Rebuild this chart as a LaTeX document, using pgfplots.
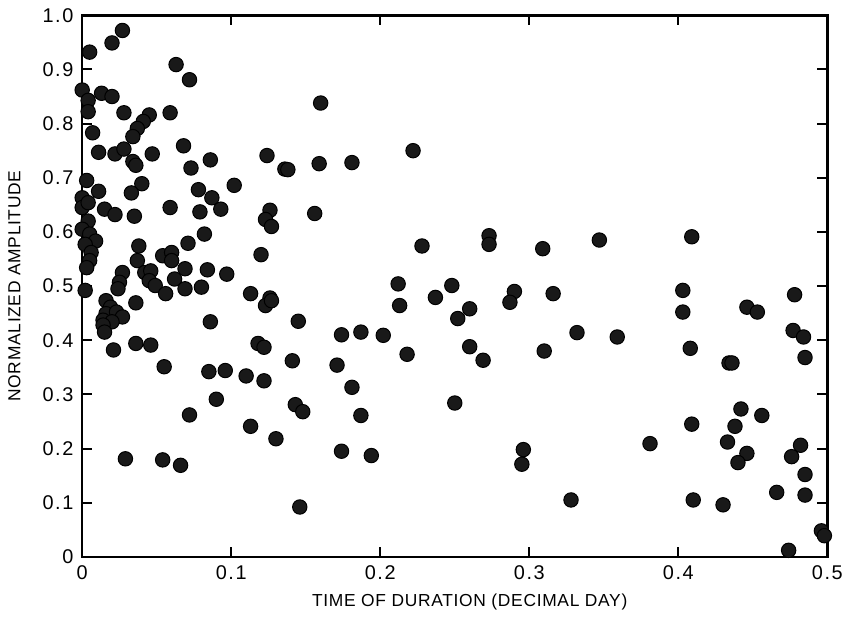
\documentclass[border=0pt]{standalone}
\usepackage{fontspec}
\setmainfont{Liberation Sans}
\usepackage{pgfplots}
\pgfplotsset{compat=1.18}

\pgfplotstableread{
x y
0.027 0.972
0.020 0.949
0.005 0.932
0.063 0.909
0.072 0.881
0.000 0.862
0.004 0.843
0.004 0.822
0.013 0.856
0.020 0.850
0.028 0.820
0.059 0.820
0.045 0.816
0.041 0.804
0.037 0.791
0.034 0.776
0.007 0.783
0.011 0.747
0.022 0.744
0.028 0.753
0.034 0.730
0.036 0.723
0.047 0.744
0.068 0.759
0.073 0.718
0.086 0.733
0.102 0.686
0.003 0.695
0.011 0.675
0.040 0.689
0.033 0.672
0.078 0.678
0.087 0.663
0.093 0.642
0.000 0.663
0.000 0.645
0.004 0.654
0.015 0.642
0.022 0.632
0.035 0.629
0.059 0.645
0.079 0.637
0.082 0.596
0.004 0.620
0.000 0.605
0.005 0.596
0.009 0.583
0.002 0.577
0.006 0.562
0.005 0.547
0.003 0.534
0.002 0.492
0.038 0.574
0.037 0.547
0.054 0.556
0.060 0.562
0.060 0.547
0.071 0.579
0.069 0.532
0.084 0.530
0.097 0.522
0.027 0.525
0.025 0.507
0.024 0.495
0.042 0.525
0.046 0.528
0.045 0.510
0.049 0.501
0.056 0.486
0.062 0.513
0.069 0.495
0.080 0.498
0.113 0.486
0.016 0.473
0.019 0.461
0.016 0.449
0.023 0.452
0.027 0.443
0.014 0.437
0.020 0.434
0.014 0.428
0.015 0.415
0.036 0.469
0.086 0.434
0.021 0.382
0.036 0.394
0.046 0.391
0.055 0.351
0.085 0.342
0.096 0.344
0.110 0.334
0.090 0.291
0.072 0.262
0.113 0.241
0.029 0.181
0.054 0.179
0.066 0.169
0.160 0.838
0.124 0.741
0.136 0.716
0.138 0.715
0.159 0.726
0.181 0.728
0.222 0.750
0.126 0.640
0.123 0.623
0.127 0.610
0.156 0.634
0.120 0.558
0.228 0.574
0.273 0.593
0.273 0.577
0.212 0.504
0.248 0.501
0.237 0.479
0.290 0.490
0.287 0.470
0.126 0.478
0.123 0.464
0.127 0.473
0.145 0.435
0.174 0.410
0.187 0.415
0.202 0.409
0.213 0.464
0.260 0.458
0.252 0.440
0.118 0.394
0.122 0.387
0.141 0.362
0.171 0.354
0.218 0.374
0.260 0.388
0.269 0.363
0.122 0.325
0.181 0.313
0.143 0.281
0.148 0.268
0.187 0.261
0.250 0.284
0.130 0.218
0.174 0.195
0.194 0.187
0.296 0.198
0.295 0.171
0.146 0.092
0.309 0.569
0.347 0.585
0.409 0.591
0.316 0.486
0.403 0.492
0.403 0.452
0.332 0.414
0.359 0.406
0.310 0.380
0.408 0.385
0.446 0.461
0.453 0.452
0.478 0.484
0.477 0.418
0.484 0.406
0.485 0.368
0.434 0.358
0.436 0.358
0.442 0.273
0.456 0.261
0.409 0.245
0.438 0.241
0.433 0.212
0.381 0.209
0.446 0.191
0.440 0.174
0.482 0.206
0.476 0.185
0.485 0.152
0.328 0.105
0.410 0.105
0.430 0.096
0.466 0.119
0.485 0.114
0.496 0.048
0.498 0.039
0.474 0.012
}\amplitude

\begin{document}
\begin{tikzpicture}[trim right={([xshift=7.5pt]current axis.east)}]
\begin{axis}[
  scale only axis,
  width=300pt, height=218pt,
  xmin=0, xmax=0.5, ymin=0, ymax=1,
  xtick={0,0.1,0.2,0.3,0.4,0.5},
  xticklabels={0,0.1,0.2,0.3,0.4,0.5},
  ytick={0,0.1,0.2,0.3,0.4,0.5,0.6,0.7,0.8,0.9,1},
  yticklabels={0,0.1,0.2,0.3,0.4,0.5,0.6,0.7,0.8,0.9,1.0},
  tick align=inside,
  major tick length=4pt,
  tick style={line width=0.8pt, black},
  axis line style={line width=1pt},
  ticklabel style={font=\fontsize{8}{9}\selectfont\addfontfeatures{LetterSpace=8}},
  /pgf/number format/assume math mode=true,
  xlabel={TIME OF DURATION (DECIMAL DAY)},
  ylabel={NORMALIZED AMPLITUDE},
  label style={font=\fontsize{7}{8}\selectfont\addfontfeatures{LetterSpace=4}},
  xlabel style={yshift=1pt, xshift=6pt},
  ylabel style={yshift=2pt},
  clip=false,
]
\addplot[only marks, mark=*, mark size=2.9pt, black, mark options={fill=black!90}] table {\amplitude};
\end{axis}
\end{tikzpicture}
\end{document}
